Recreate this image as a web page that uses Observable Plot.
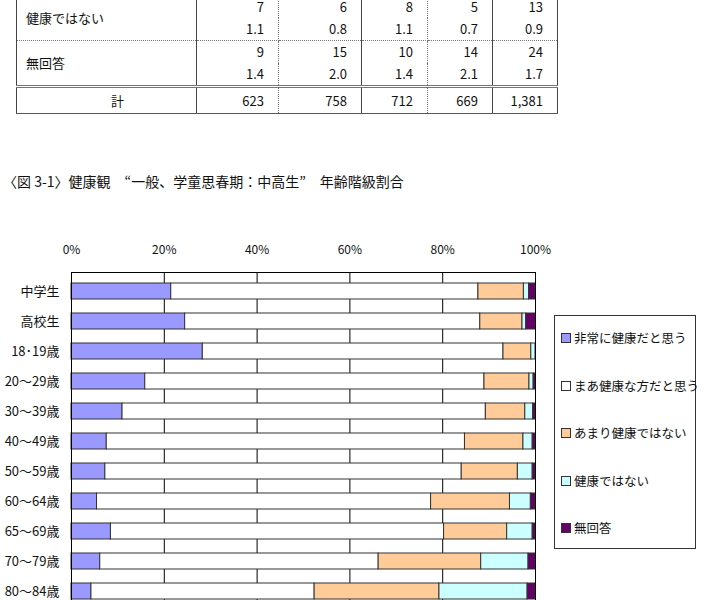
<!DOCTYPE html>
<html>
<head>
<meta charset="utf-8">
<script src="https://cdn.jsdelivr.net/npm/d3@7"></script>
<script src="https://cdn.jsdelivr.net/npm/@observablehq/plot@0.6"></script>
<style>
  html, body { margin: 0; padding: 0; background: #fff; }
  body { width: 704px; height: 600px; position: relative; overflow: hidden;
         font-family: "Noto Sans CJK JP", "Noto Sans", sans-serif; color: #111; }
  #tbl { position: absolute; left: 16px; top: -4px; border-collapse: collapse; font-size: 13px; }
  #tbl td { padding: 0; height: 22px; line-height: 22px; box-sizing: border-box; }
  #tbl td.lab { padding-left: 9px; border-left: 1px solid #444; border-right: 1px solid #444; }
  #tbl td.num { text-align: right; padding-right: 14px; }
  #title { position: absolute; left: 3px; top: 171px; font-size: 14px; white-space: pre; }
  #chart { position: absolute; left: 0; top: 200px; }
  #legend { position: absolute; left: 554px; top: 315px; width: 142px; height: 234px;
            border: 1px solid #333; box-sizing: border-box; }
  .li { position: absolute; left: 6px; font-size: 12.5px; white-space: nowrap; line-height: 16px; }
  .sw { display: inline-block; width: 8px; height: 8px; border: 1px solid #333; margin-right: 3px; vertical-align: 0px; }
</style>
</head>
<body>
<table id="tbl"></table>
<div id="title"></div>
<div id="chart"></div>
<div id="legend"></div>
<script>
// ---- table data (bottom of the preceding table) ----
const tableLabels = ["健康ではない", "無回答"];
const tableCounts = [[7, 6, 8, 5, 13], [9, 15, 10, 14, 24]];
const tablePcts = [["1.1", "0.8", "1.1", "0.7", "0.9"], ["1.4", "2.0", "1.4", "2.1", "1.7"]];
const tableTotalLabel = "計";
const tableTotals = ["623", "758", "712", "669", "1,381"];

// ---- chart data ----
const chartTitle = "〈図 3-1〉健康観　“一般、学童思春期：中高生”　年齢階級割合";
const categories = ["中学生", "高校生", "18･19歳", "20～29歳", "30～39歳", "40～49歳", "50～59歳", "60～64歳", "65～69歳", "70～79歳", "80～84歳"];
const seriesNames = ["非常に健康だと思う", "まあ健康な方だと思う", "あまり健康ではない", "健康ではない", "無回答"];
const seriesColors = ["#9999ff", "#ffffff", "#ffcc99", "#ccffff", "#660066"];
const veryHealthy   = [21.5, 24.5, 28.3, 15.9, 11.0, 7.6, 7.3, 5.5, 8.5, 6.2, 4.3];
const fairlyHealthy = [66.2, 63.6, 64.8, 73.1, 78.3, 77.2, 76.8, 72.0, 71.8, 60.0, 48.1];
const notVery       = [9.8, 9.1, 6.0, 9.7, 8.5, 12.6, 12.1, 17.0, 13.6, 22.1, 26.9];
const notHealthy    = [1.1, 0.8, 0.9, 0.9, 1.7, 2.0, 3.2, 4.5, 5.5, 10.2, 19.0];
const noAnswer      = [1.4, 2.0, 0.0, 0.4, 0.5, 0.6, 0.6, 1.0, 0.6, 1.5, 1.7];
const xTicks = [0, 20, 40, 60, 80, 100];

// ---- table ----
const colWidths = [180, 82, 83, 66, 65, 65];
const solidAfter = [true, false, true, false, true, true];
const tbl = document.getElementById("tbl");
const colgroup = document.createElement("colgroup");
colWidths.forEach(w => { const c = document.createElement("col"); c.style.width = w + "px"; colgroup.appendChild(c); });
tbl.appendChild(colgroup);
function borderR(j) { return solidAfter[j] ? "1px solid #444" : "1px dotted #777"; }
tableLabels.forEach((lab, i) => {
  const r1 = document.createElement("tr");
  const r2 = document.createElement("tr");
  const lc = document.createElement("td");
  lc.className = "lab"; lc.rowSpan = 2; lc.textContent = lab;
  lc.style.borderBottom = "1px dotted #777";
  r1.appendChild(lc);
  tableCounts[i].forEach((v, j) => {
    const td = document.createElement("td"); td.className = "num"; td.textContent = v;
    td.style.borderRight = borderR(j + 1); r1.appendChild(td);
  });
  tablePcts[i].forEach((v, j) => {
    const td = document.createElement("td"); td.className = "num"; td.textContent = v;
    td.style.borderRight = borderR(j + 1);
    td.style.borderBottom = i === tableLabels.length - 1 ? "3px double #777" : "1px dotted #777";
    r2.appendChild(td);
  });
  if (i === tableLabels.length - 1) lc.style.borderBottom = "3px double #777";
  tbl.appendChild(r1); tbl.appendChild(r2);
});
{
  const r = document.createElement("tr");
  const lc = document.createElement("td");
  lc.className = "lab"; lc.textContent = tableTotalLabel;
  lc.style.textAlign = "center"; lc.style.paddingLeft = "22px";
  lc.style.height = "27px"; lc.style.borderBottom = "1.5px solid #555";
  r.appendChild(lc);
  tableTotals.forEach((v, j) => {
    const td = document.createElement("td"); td.className = "num"; td.textContent = v;
    td.style.borderRight = borderR(j + 1); td.style.borderBottom = "1.5px solid #555";
    td.style.height = "27px";
    r.appendChild(td);
  });
  tbl.appendChild(r);
}

// ---- title ----
document.getElementById("title").textContent = chartTitle;

// ---- chart ----
const seriesValues = [veryHealthy, fairlyHealthy, notVery, notHealthy, noAnswer];
const rows = categories.flatMap((c, i) =>
  seriesNames.map((s, j) => ({ cat: c, series: s, value: seriesValues[j][i] }))
).filter(d => d.value > 0);

const chart = Plot.plot({
  width: 704,
  height: 410,
  marginLeft: 71,
  marginRight: 169,
  marginTop: 72,
  marginBottom: 0,
  style: { fontFamily: "Noto Sans CJK JP, Noto Sans, sans-serif", fontSize: "13px", color: "#111", background: "transparent" },
  x: { domain: [0, 100], label: null },
  y: { domain: categories, paddingInner: 0.48, paddingOuter: 0.24, label: null },
  color: { domain: seriesNames, range: seriesColors },
  marks: [
    Plot.ruleX(xTicks.slice(1, -1), { stroke: "#000", strokeWidth: 1 }),
    Plot.barX(rows, Plot.stackX({
      x: "value", y: "cat", z: "series", fill: "series", order: seriesNames,
      stroke: "#333", strokeWidth: 1, inset: 0
    })),
    Plot.frame({ stroke: "#000", strokeWidth: 1 }),
    Plot.axisX({ anchor: "top", ticks: xTicks, tickFormat: d => d + "%", tickSize: 0, tickPadding: 19, fontSize: 12 }),
    Plot.axisY({ tickSize: 0, tickPadding: 12, fontSize: 13 })
  ]
});
document.getElementById("chart").appendChild(chart);

// ---- legend ----
const legend = document.getElementById("legend");
const legendY = [22, 69.5, 117, 164.5, 212];
seriesNames.forEach((s, i) => {
  const d = document.createElement("div");
  d.className = "li";
  d.style.top = (legendY[i] - 8) + "px";
  const sw = document.createElement("span");
  sw.className = "sw"; sw.style.background = seriesColors[i];
  d.appendChild(sw);
  d.appendChild(document.createTextNode(s));
  legend.appendChild(d);
});
</script>
</body>
</html>
